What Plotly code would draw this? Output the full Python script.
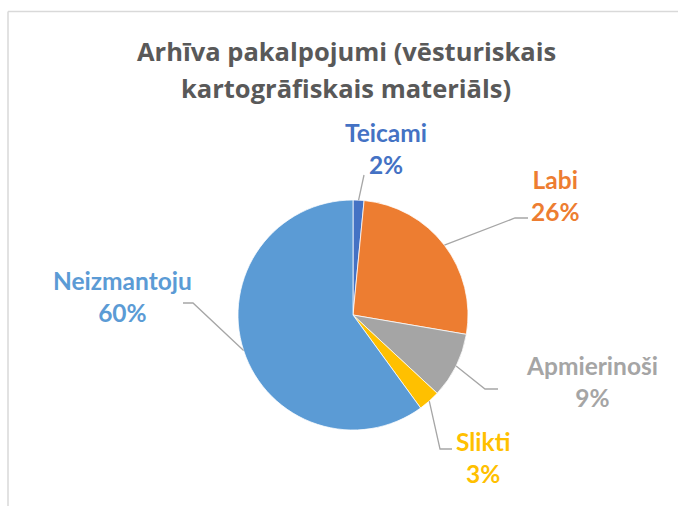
import math
import plotly.graph_objects as go

# ---- data ----
categories = ["Teicami", "Labi", "Apmierinoši", "Slikti", "Neizmantoju"]
counts = [1, 17, 6, 2, 39]
colors = ["#4472C4", "#ED7D31", "#A5A5A5", "#FFC000", "#5B9BD5"]
title_lines = ["Arhīva pakalpojumi (vēsturiskais", "kartogrāfiskais materiāls)"]

# ---- layout constants (pixels) ----
W, H = 678, 506
CX, CY, R = 353, 315, 115
label_pos = [(386, 148), (555, 195), (592, 381), (483, 457), (122, 296)]
leader_pts = [
    [(364, 175)],
    [(515, 218), (528, 218)],
    [(485, 389), (498, 389)],
    [(440, 449), (452, 449)],
    [(193, 303), (183, 303)],
]

total = sum(counts)
fig = go.Figure()
fig.add_trace(go.Pie(
    labels=categories, values=counts,
    marker=dict(colors=colors, line=dict(color="white", width=0.75)),
    sort=False, direction="clockwise", rotation=0,
    textinfo="none", showlegend=False,
    domain=dict(x=[(CX - R) / W, (CX + R) / W], y=[(H - CY - R) / H, (H - CY + R) / H]),
))

# overlay pixel axes
fig.add_trace(go.Scatter(x=[0, W], y=[0, H], mode="markers", marker=dict(opacity=0), hoverinfo="skip", showlegend=False))

shapes = []
annotations = []
cum = 0
for i, (cat, v) in enumerate(zip(categories, counts)):
    mid = (cum + v / 2) / total * 2 * math.pi
    cum += v
    sx = CX + R * math.sin(mid)
    sy = CY - R * math.cos(mid)
    pts = [(sx, sy)] + leader_pts[i]
    path = "M " + " L ".join(f"{x:.1f},{y:.1f}" for x, y in pts)
    shapes.append(dict(type="path", path=path, xref="x", yref="y",
                       line=dict(color="#A6A6A6", width=1.3)))
    pct = round(v / total * 100)
    lx, ly = label_pos[i]
    annotations.append(dict(x=lx, y=ly, xref="x", yref="y", showarrow=False,
                            text=f"<b>{cat}<br>{pct}%</b>", align="center",
                            font=dict(family="Lato", size=24.5, color=colors[i]),
                            xanchor="center", yanchor="middle"))

# title lines
for txt, ty in zip(title_lines, [51, 88]):
    annotations.append(dict(x=346, y=ty, xref="x", yref="y", showarrow=False,
                            text=f"<b>{txt}</b>",
                            font=dict(family="Open Sans", size=25.5, color="#595959"),
                            xanchor="center", yanchor="middle"))

# frame lines (left & top)
shapes.append(dict(type="line", x0=8, y0=11.5, x1=8, y1=H, xref="x", yref="y",
                   line=dict(color="#D9D9D9", width=1.5)))
shapes.append(dict(type="line", x0=8, y0=11.5, x1=W, y1=11.5, xref="x", yref="y",
                   line=dict(color="#D9D9D9", width=1.5)))

fig.update_layout(
    width=W, height=H, margin=dict(l=0, r=0, t=0, b=0),
    paper_bgcolor="white", plot_bgcolor="rgba(0,0,0,0)",
    xaxis=dict(range=[0, W], visible=False, fixedrange=True),
    yaxis=dict(range=[H, 0], visible=False, fixedrange=True),
    shapes=shapes, annotations=annotations,
)

fig.write_html("out.html", config={"displayModeBar": False},
               post_script="document.body.style.margin='0';document.body.style.overflow='hidden';")
